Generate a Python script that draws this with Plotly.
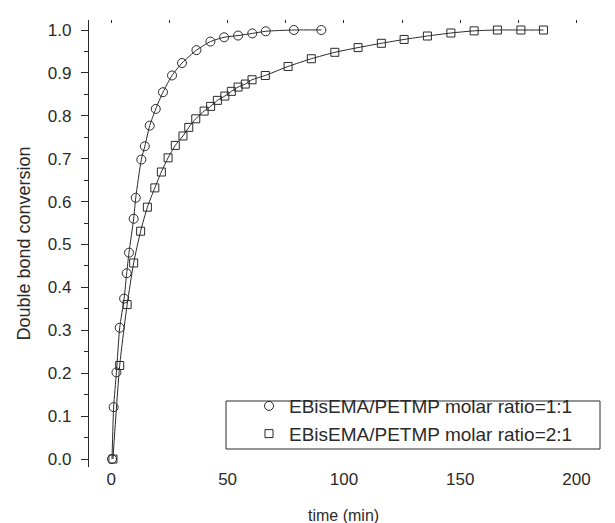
import plotly.graph_objects as go

# ratio 1:1 (circles)
t_11 = [0.3, 1.0, 2.2, 3.6, 5.5, 6.6, 7.6, 9.6, 10.5, 12.9, 14.4, 16.5, 19.1, 22.2,
        26.1, 30.4, 36.6, 42.6, 48.5, 54.5, 60.6, 66.4, 78.5, 90.3]
conv_11 = [0.0, 0.121, 0.202, 0.306, 0.374, 0.433, 0.481, 0.560, 0.609, 0.698, 0.729,
           0.777, 0.816, 0.855, 0.894, 0.923, 0.953, 0.973, 0.983, 0.987, 0.992, 0.997,
           1.0, 1.0]

# ratio 2:1 (squares)
t_21 = [0.7, 3.6, 6.8, 9.6, 12.6, 15.5, 18.7, 21.5, 24.4, 27.5, 30.8, 33.3, 36.3, 39.9,
        42.7, 45.6, 48.8, 51.6, 54.5, 57.6, 60.5, 66.2, 76.0, 86.0, 96.1, 106.1, 116.1,
        125.9, 135.9, 146.0, 156.0, 166.0, 176.1, 185.8]
conv_21 = [0.0, 0.218, 0.360, 0.457, 0.531, 0.587, 0.632, 0.669, 0.702, 0.731, 0.753,
           0.773, 0.793, 0.811, 0.822, 0.836, 0.846, 0.857, 0.867, 0.874, 0.884, 0.894,
           0.915, 0.933, 0.948, 0.959, 0.969, 0.978, 0.986, 0.993, 0.998, 1.0, 1.0, 1.0]

labels = ["EBisEMA/PETMP molar ratio=1:1", "EBisEMA/PETMP molar ratio=2:1"]

INK = "#2a2a2a"
FONT = "Liberation Sans, Arial, sans-serif"

fig = go.Figure()

# fitted curves (no legend entry)
for t, c in [(t_11, conv_11), (t_21, conv_21)]:
    fig.add_trace(go.Scatter(
        x=t, y=c, mode="lines", line=dict(color=INK, width=1, shape="spline", smoothing=0.6),
        showlegend=False, hoverinfo="skip"
    ))

# measured points
fig.add_trace(go.Scatter(
    x=t_11, y=conv_11, mode="markers", name=labels[0],
    marker=dict(symbol="circle-open", size=9, color=INK, line=dict(width=1, color=INK))
))
fig.add_trace(go.Scatter(
    x=t_21, y=conv_21, mode="markers", name=labels[1],
    marker=dict(symbol="square-open", size=8, color=INK, line=dict(width=1, color=INK))
))

# dummy trace so the top (mirror) axis with inward ticks is drawn
fig.add_trace(go.Scatter(x=[None], y=[None], xaxis="x2", showlegend=False, hoverinfo="skip"))

fig.update_layout(
    width=615, height=523,
    margin=dict(l=81, r=0, t=12, b=64),
    plot_bgcolor="white", paper_bgcolor="white",
    font=dict(family=FONT, size=17, color=INK),
    showlegend=True,
    legend=dict(
        x=0.2996, y=0.105, xanchor="left", yanchor="middle",
        borderwidth=0, bgcolor="rgba(0,0,0,0)",
        font=dict(size=19), tracegroupgap=0,
    ),
    # legend frame
    shapes=[dict(
        type="rect", xref="paper", yref="paper",
        x0=(218 - 81) / 534, x1=(592 - 81) / 534,
        y0=(459 - 441) / 447, y1=(459 - 393) / 447,
        line=dict(color=INK, width=1), fillcolor="rgba(0,0,0,0)",
    )],
    annotations=[dict(
        text="time (min)", x=0.476, y=-0.108, xref="paper", yref="paper",
        xanchor="center", yanchor="middle", showarrow=False, font=dict(size=16)
    )],
    xaxis2=dict(
        overlaying="x", side="top", matches="x", anchor="y",
        tickvals=[0, 25, 50, 75, 100, 125, 150, 175, 200, 225],
        ticks="inside", ticklen=3, tickcolor=INK, showticklabels=False,
        showline=False, showgrid=False, zeroline=False,
    ),
)

fig.update_xaxes(
    range=[-9.6, 220], tickvals=[0, 50, 100, 150, 200],
    ticks="outside", ticklen=7, tickwidth=1.2, tickcolor=INK,
    minor=dict(dtick=25, tick0=0, ticks="outside", ticklen=4, tickcolor=INK),
    showline=True, linecolor=INK, linewidth=1.3, mirror=True,
    showgrid=False, zeroline=False, selector=dict(anchor="y", overlaying=None),
)
fig.update_layout(xaxis=dict(range=[-9.6, 220]))
fig.update_yaxes(
    range=[-0.0186, 1.0233], tickvals=[i / 10 for i in range(11)], tickformat=".1f",
    ticks="outside", ticklen=7, tickwidth=1.2, tickcolor=INK, ticklabelstandoff=6,
    minor=dict(dtick=0.05, tick0=0, ticks="outside", ticklen=4, tickcolor=INK),
    showline=True, linecolor=INK, linewidth=1.3,
    showgrid=False, zeroline=False,
    title=dict(text="Double bond conversion", font=dict(size=18), standoff=12),
)

fig.write_html("out.html")
